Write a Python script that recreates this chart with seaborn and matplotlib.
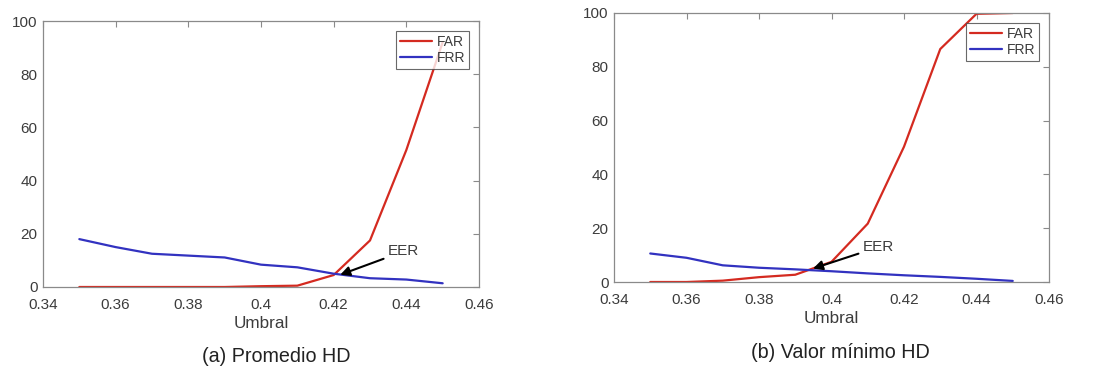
import pandas as pd
import matplotlib
matplotlib.use("Agg")
import matplotlib.pyplot as plt
import seaborn as sns

# Umbral values (same for both panels)
umbral = [0.35, 0.36, 0.37, 0.38, 0.39, 0.40, 0.41, 0.42, 0.43, 0.44, 0.45]

# (a) Promedio HD
far_a = [0, 0, 0, 0, 0, 0.3, 0.5, 4.5, 17.5, 51.5, 92]
frr_a = [18, 15, 12.5, 11.8, 11.1, 8.4, 7.4, 5, 3.3, 2.8, 1.4]

# (b) Valor mínimo HD
far_b = [0, 0, 0.5, 1.8, 2.7, 7.5, 21.7, 50.3, 86.6, 99.7, 100]
frr_b = [10.6, 9, 6.2, 5.3, 4.7, 4, 3.2, 2.5, 1.9, 1.2, 0.4]

# EER annotation: (text x, text y, arrow head x, arrow head y)
eer_a = (0.4350, 13.4, 0.4218, 4.6)
eer_b = (0.4087, 13.0, 0.3949, 5.0)

captions = ["(a) Promedio HD", "(b) Valor mínimo HD"]

sns.set_style("white")
plt.rcParams['font.family'] = ['Liberation Sans', 'DejaVu Sans']

RED = '#d42a20'
BLUE = '#3232c0'
GRAY = '#8a8a8a'
TXT = '#3c3c3c'


def draw_panel(ax, far, frr, eer, caption, cap_y):
    df = pd.DataFrame({
        'Umbral': umbral * 2,
        'valor': far + frr,
        'serie': ['FAR'] * len(umbral) + ['FRR'] * len(umbral),
    })
    sns.lineplot(data=df, x='Umbral', y='valor', hue='serie',
                 palette={'FAR': RED, 'FRR': BLUE}, linewidth=1.6, ax=ax)
    ax.set_xlim(0.34, 0.46)
    ax.set_ylim(0, 100)
    ax.set_xticks([0.34, 0.36, 0.38, 0.40, 0.42, 0.44, 0.46])
    ax.set_xticklabels(['0.34', '0.36', '0.38', '0.4', '0.42', '0.44', '0.46'])
    ax.set_yticks([0, 20, 40, 60, 80, 100])
    ax.tick_params(direction='in', length=4, color=GRAY, labelcolor=TXT,
                   labelsize=11, top=True, right=True)
    ax.tick_params(axis='x', pad=8)
    ax.tick_params(axis='y', pad=4)
    for sp in ax.spines.values():
        sp.set_color(GRAY)
        sp.set_linewidth(0.9)
    ax.set_xlabel('Umbral', fontsize=12.3, color=TXT, labelpad=3)
    ax.set_ylabel('')
    leg = ax.legend(loc='upper right', fontsize=10, frameon=True, fancybox=False,
                    handlelength=2.3, borderpad=0.3, labelspacing=0.15,
                    handletextpad=0.35, borderaxespad=0.7)
    leg.get_frame().set_edgecolor('#444444')
    leg.get_frame().set_linewidth(0.8)
    for t in leg.get_texts():
        t.set_color(TXT)
    tx, ty, hx, hy = eer
    ax.annotate('EER', xy=(hx, hy), xytext=(tx, ty), fontsize=11, color=TXT,
                va='center', ha='left',
                arrowprops=dict(arrowstyle='-|>', color='black', lw=1.5,
                                mutation_scale=14, shrinkA=1, shrinkB=0))
    return ax


fig = plt.figure(figsize=(10.93, 3.71), dpi=100)
ax_a = fig.add_axes([43 / 1093, 1 - 287 / 371, 436 / 1093, 266 / 371])
ax_b = fig.add_axes([614 / 1093, 1 - 282 / 371, 435 / 1093, 269 / 371])

draw_panel(ax_a, far_a, frr_a, eer_a, captions[0], 0)
draw_panel(ax_b, far_b, frr_b, eer_b, captions[1], 0)

fig.text(276 / 1093, 1 - 357 / 371, captions[0], ha='center', va='center',
         fontsize=14.2, color='#222222')
fig.text(840 / 1093, 1 - 353 / 371, captions[1], ha='center', va='center',
         fontsize=14.2, color='#222222')

fig.savefig('out.png', dpi=100)
